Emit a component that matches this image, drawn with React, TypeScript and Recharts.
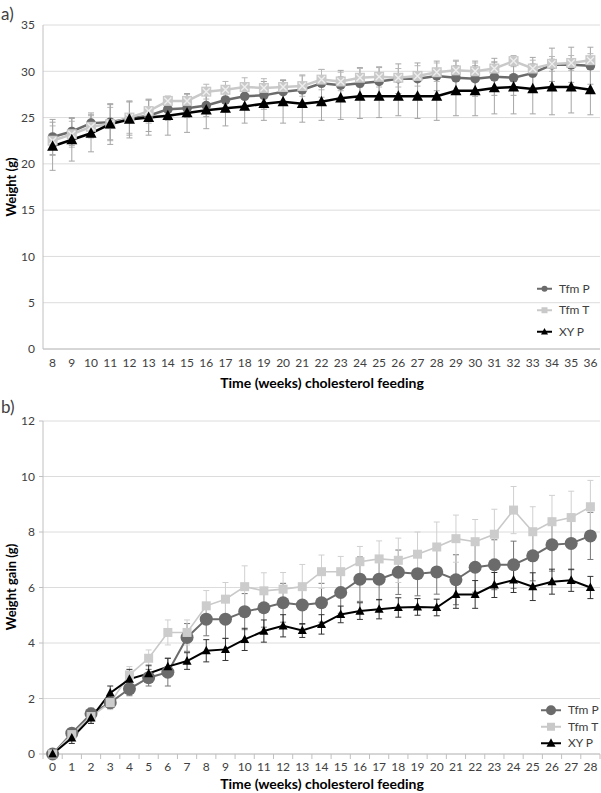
import React from 'react';
import {
  LineChart,
  Line,
  XAxis,
  YAxis,
  CartesianGrid,
  ErrorBar,
  Legend,
} from 'recharts';

// a) body weight, weeks 8-36
const weeksA = ['8', '9', '10', '11', '12', '13', '14', '15', '16', '17', '18', '19', '20', '21', '22', '23', '24', '25', '26', '27', '28', '29', '30', '31', '32', '33', '34', '35', '36'];
const tfmPA = [22.9, 23.5, 24.4, 24.5, 24.9, 25.2, 25.9, 26.0, 26.3, 26.9, 27.3, 27.4, 27.8, 28.0, 28.7, 28.5, 28.7, 28.9, 29.2, 29.2, 29.5, 29.3, 29.2, 29.4, 29.3, 29.8, 30.7, 30.7, 30.6];
const tfmPErrA = [1.9, 1.5, 1.1, 1.9, 1.8, 1.7, 1.2, 1.0, 1.2, 1.3, 1.4, 1.5, 1.2, 1.6, 1.5, 1.6, 1.7, 1.5, 1.6, 1.7, 1.6, 1.8, 1.9, 2.0, 1.9, 1.7, 1.8, 1.9, 2.0];
const tfmTA = [22.5, 23.2, 24.0, 24.3, 25.0, 25.7, 26.8, 26.8, 27.8, 28.0, 28.3, 28.2, 28.3, 28.4, 29.1, 28.9, 29.3, 29.4, 29.3, 29.5, 29.9, 30.1, 30.0, 30.3, 31.1, 30.3, 30.8, 30.9, 31.2];
const tfmTErrA = [1.6, 1.4, 1.2, 1.8, 1.7, 1.3, 0.5, 0.7, 0.8, 0.9, 1.0, 1.0, 0.8, 1.1, 1.1, 1.0, 1.0, 1.1, 1.0, 1.1, 1.0, 1.1, 0.9, 0.7, 0.6, 0.9, 0.8, 0.8, 0.7];
const xyPA = [21.9, 22.6, 23.3, 24.3, 24.8, 25.0, 25.2, 25.5, 25.8, 26.0, 26.2, 26.5, 26.7, 26.5, 26.7, 27.1, 27.3, 27.3, 27.3, 27.3, 27.3, 27.9, 27.9, 28.2, 28.3, 28.1, 28.3, 28.3, 28.0];
const xyPErrA = [2.6, 2.3, 2.0, 2.2, 2.0, 1.9, 2.1, 2.1, 2.0, 1.9, 1.8, 1.8, 2.3, 2.0, 2.0, 2.3, 2.4, 2.3, 2.1, 2.4, 2.6, 2.7, 2.7, 2.8, 2.9, 2.7, 3.0, 2.8, 2.7];
const ticksA = [0, 5, 10, 15, 20, 25, 30, 35];

// b) weight gain, weeks 0-28
const weeksB = ['0', '1', '2', '3', '4', '5', '6', '7', '8', '9', '10', '11', '12', '13', '14', '15', '16', '17', '18', '19', '20', '21', '22', '23', '24', '25', '26', '27', '28'];
const tfmPB = [0, 0.75, 1.45, 1.85, 2.35, 2.75, 2.95, 4.2, 4.86, 4.86, 5.13, 5.27, 5.45, 5.37, 5.45, 5.82, 6.3, 6.3, 6.55, 6.5, 6.56, 6.28, 6.73, 6.82, 6.82, 7.14, 7.54, 7.59, 7.86];
const tfmPErrB = [0, 0.1, 0.2, 0.2, 0.25, 0.3, 0.5, 0.5, 0.6, 0.7, 0.65, 0.7, 0.7, 0.7, 0.7, 0.75, 0.8, 0.75, 0.8, 0.8, 0.8, 0.9, 0.9, 0.9, 0.85, 0.9, 0.95, 0.95, 0.85];
const tfmTB = [0, 0.7, 1.35, 1.85, 2.85, 3.45, 4.38, 4.38, 5.34, 5.58, 6.03, 5.88, 5.94, 6.03, 6.57, 6.57, 6.93, 7.03, 6.98, 7.2, 7.46, 7.76, 7.65, 7.92, 8.79, 8.01, 8.37, 8.52, 8.91];
const tfmTErrB = [0, 0.1, 0.2, 0.25, 0.3, 0.3, 0.45, 0.45, 0.55, 0.6, 0.75, 0.65, 0.6, 0.8, 0.6, 0.55, 0.55, 0.65, 0.8, 0.8, 0.9, 0.85, 0.8, 0.9, 0.85, 0.9, 0.95, 0.95, 0.95];
const xyPB = [0, 0.58, 1.3, 2.2, 2.7, 2.9, 3.15, 3.35, 3.72, 3.77, 4.13, 4.43, 4.62, 4.45, 4.67, 5.03, 5.15, 5.22, 5.28, 5.3, 5.28, 5.75, 5.75, 6.09, 6.27, 6.03, 6.21, 6.26, 6.0];
const xyPErrB = [0, 0.2, 0.2, 0.25, 0.35, 0.3, 0.3, 0.3, 0.4, 0.4, 0.4, 0.4, 0.4, 0.25, 0.35, 0.3, 0.3, 0.35, 0.35, 0.3, 0.3, 0.5, 0.5, 0.45, 0.45, 0.5, 0.45, 0.4, 0.4];
const ticksB = [0, 2, 4, 6, 8, 10, 12];

const FONT = "Lato, 'Liberation Sans', sans-serif";
const TEXT = '#404040';
const AXIS = '#c0c0c0';
const GRID = '#dcdcdc';
const DARK = '#6b6b6b';
const LIGHT = '#c9c9c9';

const W = 601;
const YW = 43; // y axis width
const BAND = (W - YW - 1) / 29;
const PAD = { left: BAND / 2, right: BAND / 2 };

const dataA = weeksA.map((w, i) => ({
  week: w,
  tfmP: tfmPA[i], tfmPErr: tfmPErrA[i],
  tfmT: tfmTA[i], tfmTErr: tfmTErrA[i],
  xyP: xyPA[i], xyPErr: xyPErrA[i],
}));

const dataB = weeksB.map((w, i) => ({
  week: w,
  tfmP: tfmPB[i], tfmPErr: tfmPErrB[i],
  tfmT: tfmTB[i], tfmTErr: tfmTErrB[i],
  xyP: xyPB[i], xyPErr: xyPErrB[i],
}));

type Shape = 'circle' | 'square' | 'squareX' | 'triangle';

function marker(shape: Shape, cx: number, cy: number, s: number, fill: string, key?: any) {
  if (shape === 'circle') return <circle key={key} cx={cx} cy={cy} r={s} fill={fill} />;
  if (shape === 'triangle')
    return (
      <polygon key={key} fill={fill}
        points={`${cx},${cy - s * 1.1} ${cx + s},${cy + s * 0.8} ${cx - s},${cy + s * 0.8}`} />
    );
  const sq = <rect x={cx - s} y={cy - s} width={s * 2} height={s * 2} fill={fill} />;
  if (shape === 'square') return <g key={key}>{sq}</g>;
  const d = s * 0.7;
  return (
    <g key={key}>
      {sq}
      <path d={`M${cx - d},${cy - d}L${cx + d},${cy + d}M${cx + d},${cy - d}L${cx - d},${cy + d}`}
        stroke="#eeeeee" strokeWidth={1.4} />
    </g>
  );
}

const dotOf = (shape: Shape, s: number, fill: string) => (p: any) => {
  if (p.cx == null || p.cy == null) return <g key={p.index} />;
  return marker(shape, p.cx, p.cy, s, fill, p.index);
};

const legendOf = (shapes: Record<string, [Shape, number]>, rowH: number, lineW: number) => (props: any) => {
  const items = props.payload || [];
  return (
    <svg width={70} height={rowH * items.length} style={{ display: 'block', overflow: 'visible' }}>
      {items.map((e: any, i: number) => {
        const y = rowH * i + rowH / 2;
        const [shape, s] = shapes[e.dataKey];
        return (
          <g key={e.dataKey}>
            <line x1={0} x2={lineW} y1={y} y2={y} stroke={e.color} strokeWidth={2} />
            {marker(shape, lineW / 2, y, s, e.color)}
            <text x={lineW + 7} y={y} dy="0.35em" fontSize={12} fill={TEXT} fontFamily={FONT}>{e.value}</text>
          </g>
        );
      })}
    </svg>
  );
};

const BottomTick = (p: any) => {
  const { x, y, payload, index } = p;
  const axisY = y - 8;
  const left = x - BAND / 2;
  return (
    <g>
      <line x1={left} x2={left} y1={axisY} y2={axisY + 5} stroke={AXIS} />
      {index === weeksB.length - 1 && (
        <line x1={x + BAND / 2} x2={x + BAND / 2} y1={axisY} y2={axisY + 5} stroke={AXIS} />
      )}
      <text x={x} y={y} dy="0.71em" textAnchor="middle" fontSize={12} fill={TEXT} fontFamily={FONT}>
        {payload.value}
      </text>
    </g>
  );
};

const tickStyle = { fontSize: 12, fill: TEXT, fontFamily: FONT };

const abs = (s: React.CSSProperties): React.CSSProperties => ({ position: 'absolute', ...s });

export default function App() {
  return (
    <div style={abs({ left: 0, top: 0, width: W, height: 793, background: '#fff', fontFamily: FONT, color: TEXT })}>
      {/* panel a */}
      <div style={abs({ left: 0, top: 0 })}>
        <LineChart width={W} height={400} data={dataA} margin={{ top: 25, right: 1, bottom: 21, left: 0 }}>
          <CartesianGrid vertical={false} stroke={GRID} />
          <XAxis dataKey="week" height={30} stroke={AXIS} tickLine={false} tickSize={0} tickMargin={9}
            tick={tickStyle} interval={0} padding={PAD} />
          <YAxis width={YW} domain={[0, 35]} ticks={ticksA} stroke={AXIS} tickLine={false} tickSize={0}
            tickMargin={8} tick={tickStyle} interval={0} />
          <Line name="Tfm P" dataKey="tfmP" stroke={DARK} strokeWidth={2.5} isAnimationActive={false}
            dot={dotOf('circle', 4.8, DARK)} activeDot={false}>
            <ErrorBar dataKey="tfmPErr" direction="y" width={3} stroke="#a6a6a6" strokeWidth={1} />
          </Line>
          <Line name="Tfm T" dataKey="tfmT" stroke={LIGHT} strokeWidth={2.5} isAnimationActive={false}
            dot={dotOf('squareX', 5, LIGHT)} activeDot={false}>
            <ErrorBar dataKey="tfmTErr" direction="y" width={3} stroke="#b8b8b8" strokeWidth={1} />
          </Line>
          <Line name="XY P" dataKey="xyP" stroke="#000" strokeWidth={2.5} isAnimationActive={false}
            dot={dotOf('triangle', 5.5, '#000')} activeDot={false}>
            <ErrorBar dataKey="xyPErr" direction="y" width={3} stroke="#a6a6a6" strokeWidth={1} />
          </Line>
          <Legend
            layout="vertical" align="center" verticalAlign="middle"
            content={legendOf({ tfmP: ['circle', 3], tfmT: ['square', 3], xyP: ['triangle', 3.5] }, 21.5, 15)}
            wrapperStyle={{ left: 537, top: 278, width: 70, bottom: 'auto' }}
          />
        </LineChart>
      </div>
      <div style={abs({ left: 1, top: 3, fontSize: 17 })}>a)</div>
      <div style={abs({ left: 11, top: 187, transform: 'translate(-50%, -50%) rotate(-90deg)', fontWeight: 700, fontSize: 13, whiteSpace: 'nowrap', color: '#000' })}>
        Weight (g)
      </div>
      <div style={abs({ left: 322, top: 382, transform: 'translate(-50%, -50%)', fontWeight: 700, fontSize: 14, whiteSpace: 'nowrap', color: '#000' })}>
        Time (weeks) cholesterol feeding
      </div>

      {/* panel b */}
      <div style={abs({ left: 0, top: 400 })}>
        <LineChart width={W} height={393} data={dataB} margin={{ top: 21, right: 1, bottom: 11, left: 0 }}>
          <CartesianGrid vertical={false} stroke={GRID} />
          <XAxis dataKey="week" height={28} stroke={AXIS} tickLine={false} tickSize={0} tickMargin={8}
            tick={<BottomTick />} interval={0} padding={PAD} />
          <YAxis width={YW} domain={[0, 12]} ticks={ticksB} stroke={AXIS} tickSize={4} tickMargin={4}
            tickLine={{ stroke: AXIS }} tick={tickStyle} interval={0} />
          <Line name="Tfm P" dataKey="tfmP" stroke={DARK} strokeWidth={2} isAnimationActive={false}
            dot={dotOf('circle', 6.5, DARK)} activeDot={false}>
            <ErrorBar dataKey="tfmPErr" direction="y" width={3} stroke="#777" strokeWidth={1} />
          </Line>
          <Line name="Tfm T" dataKey="tfmT" stroke={LIGHT} strokeWidth={1.6} isAnimationActive={false}
            dot={dotOf('square', 4.5, '#cccccc')} activeDot={false}>
            <ErrorBar dataKey="tfmTErr" direction="y" width={3} stroke="#d0d0d0" strokeWidth={1} />
          </Line>
          <Line name="XY P" dataKey="xyP" stroke="#000" strokeWidth={2} isAnimationActive={false}
            dot={dotOf('triangle', 4.5, '#000')} activeDot={false}>
            <ErrorBar dataKey="xyPErr" direction="y" width={3} stroke="#333" strokeWidth={1} />
          </Line>
          <Legend
            layout="vertical" align="center" verticalAlign="middle"
            content={legendOf({ tfmP: ['circle', 5], tfmT: ['square', 4], xyP: ['triangle', 4.5] }, 16.5, 20)}
            wrapperStyle={{ left: 541, top: 302, width: 70, bottom: 'auto' }}
          />
        </LineChart>
      </div>
      <div style={abs({ left: 1, top: 396, fontSize: 17 })}>b)</div>
      <div style={abs({ left: 11, top: 587, transform: 'translate(-50%, -50%) rotate(-90deg)', fontWeight: 700, fontSize: 13, whiteSpace: 'nowrap', color: '#000' })}>
        Weight gain (g)
      </div>
      <div style={abs({ left: 322, top: 783, transform: 'translate(-50%, -50%)', fontWeight: 700, fontSize: 14, whiteSpace: 'nowrap', color: '#000' })}>
        Time (weeks) cholesterol feeding
      </div>
    </div>
  );
}
